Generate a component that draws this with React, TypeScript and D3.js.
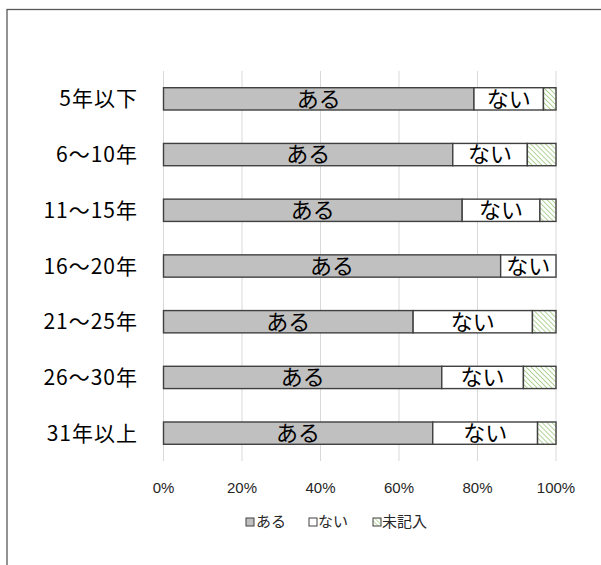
import React from "react";
import * as d3 from "d3";

// 経験年数別の回答割合（%）
const categories = ["5年以下", "6～10年", "11～15年", "16～20年", "21～25年", "26～30年", "31年以上"];
const aruValues = [79.1, 73.7, 76.1, 85.9, 63.6, 70.9, 68.6];
const naiValues = [17.7, 19.0, 19.8, 14.1, 30.4, 20.8, 26.7];
const mikinyuValues = [3.2, 7.3, 4.1, 0.0, 6.0, 8.3, 4.7];
const seriesNames = ["ある", "ない", "未記入"];
const tickValues = [0, 20, 40, 60, 80, 100];

const W = 601;
const H = 565;
const FONT = "'Noto Sans CJK JP', 'Noto Sans', sans-serif";
const NUM_FONT = "'Liberation Sans Narrow', 'Liberation Sans', sans-serif";

export default function App() {
  const x = d3.scaleLinear().domain([0, 100]).range([163.5, 556]);
  const y = d3.scaleBand<string>().domain(categories).range([71, 461]).paddingInner(0.6).paddingOuter(0.3);

  const rows = categories.map((c, i) => ({
    cat: c,
    values: [aruValues[i], naiValues[i], mikinyuValues[i]],
  }));
  const stack = d3.stack<any>().keys(["0", "1", "2"]).value((d, k) => d.values[+k]);
  const stacked = stack(rows as any);

  const fills = ["#c0c0c0", "#ffffff", "url(#hatch)"];
  const bw = y.bandwidth();

  const legendItems = [
    { name: seriesNames[0], fill: fills[0], sx: 246, tx: 256 },
    { name: seriesNames[1], fill: fills[1], sx: 309, tx: 318 },
    { name: seriesNames[2], fill: "url(#hatchSmall)", sx: 373, tx: 382 },
  ];

  return (
    <svg width={W} height={H} style={{ position: "absolute", left: 0, top: 0, background: "#fff" }} fontFamily={FONT}>
      <defs>
        <pattern id="hatch" patternUnits="userSpaceOnUse" width="3.5" height="3.5" patternTransform="rotate(-45)">
          <rect width="3.5" height="3.5" fill="#ffffff" />
          <line x1="0" y1="0" x2="0" y2="3.5" stroke="#a9d08e" strokeWidth="1.8" />
        </pattern>
        <pattern id="hatchSmall" patternUnits="userSpaceOnUse" width="3" height="3" patternTransform="rotate(-45)">
          <rect width="3" height="3" fill="#ffffff" />
          <line x1="0" y1="0" x2="0" y2="3" stroke="#a9d08e" strokeWidth="1.5" />
        </pattern>
      </defs>

      {/* chart frame */}
      <rect x={7} y={9.5} width={800} height={800} fill="none" stroke="#595959" strokeWidth={1.3} />

      {/* vertical gridlines */}
      {tickValues.map((t) => (
        <line key={t} x1={x(t)} x2={x(t)} y1={71} y2={461} stroke="#d9d9d9" strokeWidth={1} />
      ))}

      {/* stacked bars */}
      {stacked.map((layer, si) =>
        layer.map((seg, ri) => {
          const w = x(seg[1]) - x(seg[0]);
          if (w <= 0) return null;
          return (
            <rect
              key={`${si}-${ri}`}
              x={x(seg[0])}
              y={y(categories[ri])!}
              width={w}
              height={bw}
              fill={fills[si]}
              stroke="#404040"
              strokeWidth={1.4}
            />
          );
        })
      )}

      {/* segment labels */}
      {stacked.slice(0, 2).map((layer, si) =>
        layer.map((seg, ri) => (
          <text
            key={`l${si}-${ri}`}
            x={(x(seg[0]) + x(seg[1])) / 2}
            y={y(categories[ri])! + bw / 2}
            dy="0.36em"
            textAnchor="middle"
            fontSize={22}
            fill="#000"
          >
            {seriesNames[si]}
          </text>
        ))
      )}

      {/* category labels */}
      {categories.map((c) => (
        <text
          key={c}
          x={138}
          y={y(c)! + bw / 2}
          dy="0.36em"
          textAnchor="end"
          fontSize={21}
          letterSpacing={1}
          fill="#000"
        >
          {c}
        </text>
      ))}

      {/* x tick labels */}
      {tickValues.map((t) => (
        <text key={`t${t}`} x={x(t)} y={488} dy="0.36em" textAnchor="middle" fontFamily={NUM_FONT} fontSize={15} fill="#262626">
          {`${t}%`}
        </text>
      ))}

      {/* legend */}
      {legendItems.map((it) => (
        <g key={it.name}>
          <rect x={it.sx} y={518} width={8} height={8} fill={it.fill} stroke="#404040" strokeWidth={1} />
          <text x={it.tx} y={522} dy="0.36em" fontSize={15} fill="#262626">
            {it.name}
          </text>
        </g>
      ))}
    </svg>
  );
}
